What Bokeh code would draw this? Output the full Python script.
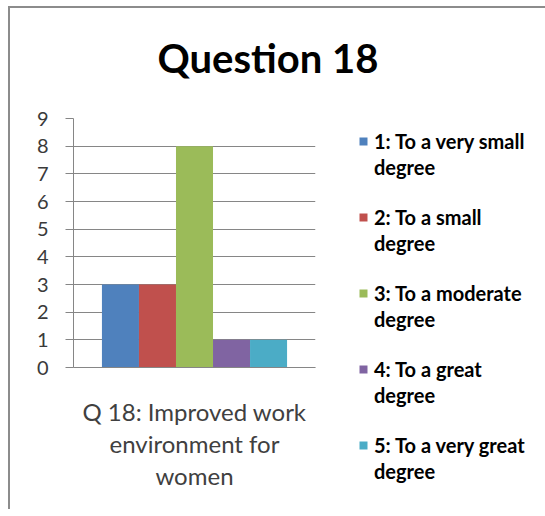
from bokeh.plotting import figure
from bokeh.models import (FactorRange, Range1d, SingleIntervalTicker,
                          Legend, LegendItem, ColumnDataSource, Arrow)
from bokeh.transform import dodge
from bokeh.embed import file_html
from bokeh.resources import INLINE

# ---- data ----
title_text = "Question 18"
categories = ["Q 18: Improved work\nenvironment for\nwomen"]
series = ["1: To a very small degree",
          "2: To a small degree",
          "3: To a moderate degree",
          "4: To a great degree",
          "5: To a very great degree"]
values = [3, 3, 8, 1, 1]
colors = ["#4F81BD", "#C0504D", "#9BBB59", "#8064A2", "#4BACC6"]
y_max = 9

FONT = "Lato"
GRID = "#868686"

p = figure(x_range=FactorRange(factors=categories), y_range=Range1d(0, y_max),
           frame_width=242, frame_height=249,
           min_border_left=63, min_border_right=218,
           min_border_top=110, min_border_bottom=142,
           output_backend="svg", toolbar_location=None)

p.stylesheets = [":host { border-left: 2px solid #8c8c8c; border-top: 2px solid #8c8c8c;"
                 " position: relative; left: 8px; top: 6px; }"]

p.outline_line_color = None
p.background_fill_color = "white"
p.border_fill_color = "white"

# title (a trailing empty line lifts it further above the plot area)
p.title.text = title_text + "\n"
p.title.align = "left"
p.title.offset = 84
p.title.standoff = 16
p.title.text_font = FONT
p.title.text_font_size = "40px"
p.title.text_font_style = "bold"
p.title.text_color = "black"
p.title.text_line_height = 0.6

# bars
bar_w = 0.153
n = len(series)
bar_renderers = []
for i, (name, val, col) in enumerate(zip(series, values, colors)):
    src = ColumnDataSource(dict(cat=categories, val=[val]))
    r = p.vbar(x=dodge("cat", (i - (n - 1) / 2) * bar_w, range=p.x_range), top="val",
               width=bar_w, source=src, fill_color=col, line_color=None)
    bar_renderers.append(r)

# legend: each entry wrapped over two lines, the swatch beside the first line
blank = p.vbar(x=[], top=[], width=0.1, fill_color=None, line_color=None)
items = []
for k, (name, r) in enumerate(zip(series, bar_renderers)):
    first, second = name.rsplit(" ", 1)
    items.append(LegendItem(label=first, renderers=[r]))
    items.append(LegendItem(label=second, renderers=[blank]))
    if k < n - 1:
        items.append(LegendItem(label=" ", renderers=[blank]))
        items.append(LegendItem(label=" ", renderers=[blank]))

legend = Legend(items=items, location=(43, -116),
                glyph_width=10, glyph_height=10, label_standoff=6,
                spacing=2, padding=0, margin=0,
                border_line_alpha=0, background_fill_alpha=0,
                label_text_font=FONT, label_text_font_size="20px",
                label_text_font_style="bold", label_text_color="black")
p.add_layout(legend, "right")

# y axis
yax = p.yaxis[0]
yax.ticker = SingleIntervalTicker(interval=1, num_minor_ticks=0)
yax.axis_line_color = GRID
yax.major_tick_line_color = GRID
yax.major_tick_out = 8
yax.major_tick_in = 0
yax.minor_tick_line_color = None
yax.major_label_standoff = 17
yax.major_label_text_font = FONT
yax.major_label_text_font_size = "20px"
yax.major_label_text_color = "#3a3a3a"

p.ygrid.grid_line_color = GRID
p.xgrid.grid_line_color = None

# x axis: category label centred, no centre tick
xax = p.xaxis[0]
xax.axis_line_color = GRID
xax.major_tick_line_color = None
xax.major_tick_out = 0
xax.major_tick_in = 0
xax.major_label_standoff = 29
xax.major_label_text_font = FONT
xax.major_label_text_font_size = "24px"
xax.major_label_text_color = "#404040"
xax.major_label_text_line_height = 1.12
xax.major_label_orientation = "horizontal"

# short ticks at both ends of the category axis
for edge in (0, 1):
    p.add_layout(Arrow(end=None, x_start=edge, x_end=edge, y_start=0, y_end=-0.33,
                       line_color=GRID, line_width=1))

open("out.html", "w").write(file_html(p, INLINE))
